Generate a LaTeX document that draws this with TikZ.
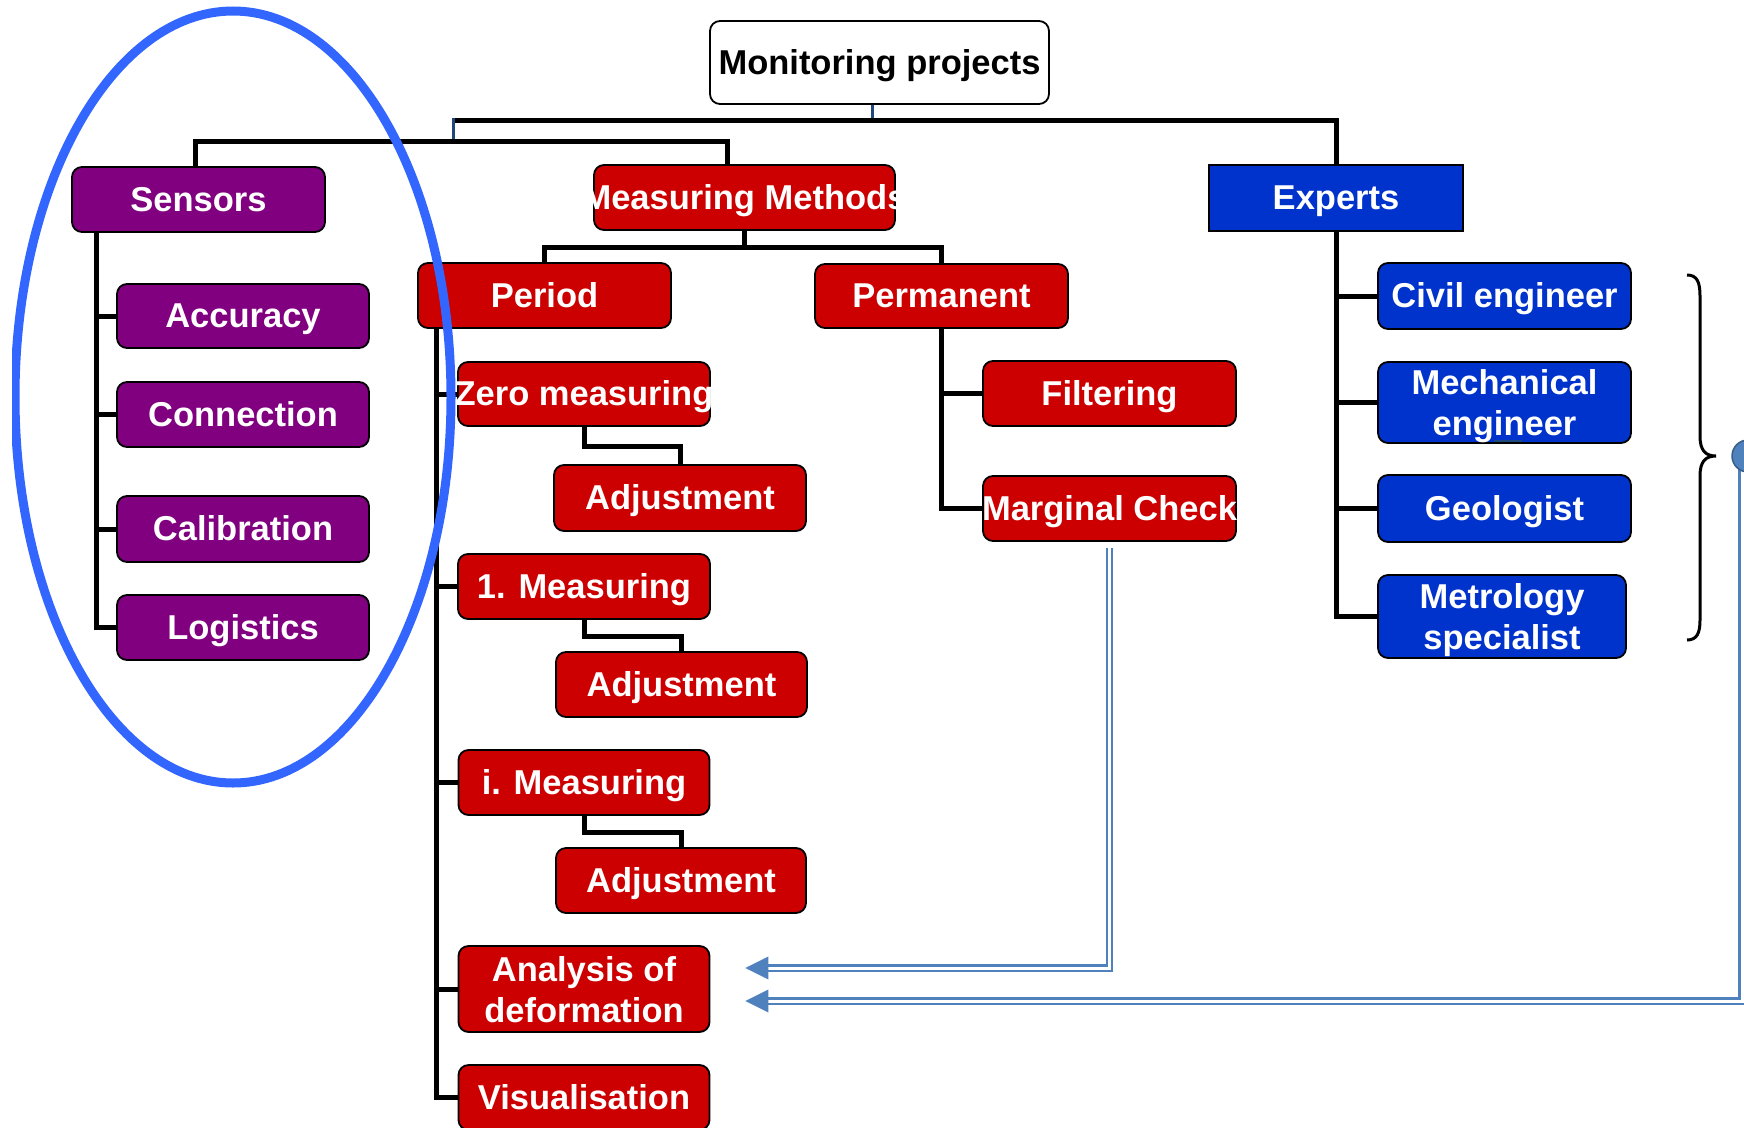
\documentclass[tikz,border=0pt]{standalone}
\usepackage{fontspec}
\setmainfont{Liberation Sans}
\usetikzlibrary{calc,backgrounds}
\definecolor{purp}{HTML}{800080}
\definecolor{redb}{HTML}{CC0000}
\definecolor{blueb}{HTML}{0033CC}
\definecolor{ellc}{HTML}{3366FF}
\definecolor{steel}{HTML}{4F81BD}
\definecolor{steeldk}{HTML}{385D8A}
\definecolor{navyc}{HTML}{1F497D}
\newcommand\ov[1]{\raisebox{-1.5pt}{\makebox[0pt]{\vphantom{H}\smash{#1}}}}
\begin{document}
\begin{tikzpicture}[x=1pt,y=-1pt,
  every node/.style={font=\fontsize{34.5}{41}\selectfont\bfseries},
  box/.style={draw=black, line width=1.8pt, rounded corners=10pt, text=white, inner sep=0pt, align=center},
  pbox/.style={box, fill=purp},
  rbox/.style={box, fill=redb},
  bbox/.style={box, fill=blueb},
  conn/.style={line width=5pt, draw=black},
  dbl/.style={draw=steel, double=white, double distance=3pt, line width=2.3pt},
  tick/.style={draw=navyc, line width=3pt}
]
\useasboundingbox (0,0) rectangle (1744,1127);

% root
\node[box, fill=white, text=black, minimum width=339pt, minimum height=83pt] (mon) at (879.5,62.5) {\ov{Monitoring projects}};

% sensors
\node[pbox, minimum width=253pt, minimum height=65pt] (sens) at (198.5,199.5) {\ov{Sensors}};
\node[pbox, minimum width=252pt, minimum height=64pt] (acc) at (243,316) {\ov{Accuracy}};
\node[pbox, minimum width=252pt, minimum height=65pt] (con) at (243,414.5) {\ov{Connection}};
\node[pbox, minimum width=252pt, minimum height=66pt] (cal) at (243,529) {\ov{Calibration}};
\node[pbox, minimum width=252pt, minimum height=65pt] (logi) at (243,627.5) {\ov{Logistics}};

% measuring methods
\node[rbox, minimum width=301pt, minimum height=65pt] (mm) at (744.5,197.5) {\ov{Measuring Methods}};
\node[rbox, minimum width=253pt, minimum height=65pt] (period) at (544.5,295.5) {\ov{Period}};
\node[rbox, minimum width=253pt, minimum height=64pt] (perm) at (941.5,296) {\ov{Permanent}};
\node[rbox, minimum width=252pt, minimum height=64pt] (zero) at (584,394) {\ov{Zero measuring}};
\node[rbox, minimum width=252pt, minimum height=66pt] (adja) at (680,498) {\ov{Adjustment}};
\node[rbox, minimum width=252pt, minimum height=65pt] (mone) at (584,586.5) {\ov{1. Measuring}};
\node[rbox, minimum width=251pt, minimum height=65pt] (adjb) at (681.5,684.5) {\ov{Adjustment}};
\node[rbox, minimum width=251pt, minimum height=65pt] (mi) at (584,782.5) {\ov{i. Measuring}};
\node[rbox, minimum width=250pt, minimum height=65pt] (adjc) at (681,880.5) {\ov{Adjustment}};
\node[rbox, minimum width=251pt, minimum height=86pt] (ana) at (584,989) {Analysis of\\\smash{deformation}};
\node[rbox, minimum width=251pt, minimum height=65pt] (vis) at (584,1097.5) {\ov{Visualisation}};
\node[rbox, minimum width=253pt, minimum height=65pt] (filt) at (1109.5,393.5) {\ov{Filtering}};
\node[rbox, minimum width=253pt, minimum height=65pt] (marg) at (1109.5,508.5) {\ov{Marginal Check}};

% experts
\node[bbox, rounded corners=0pt, minimum width=254pt, minimum height=66pt] (exp) at (1336,198) {\ov{Experts}};
\node[bbox, minimum width=253pt, minimum height=66pt] (civ) at (1504.5,296) {\ov{Civil engineer}};
\node[bbox, minimum width=253pt, minimum height=81pt] (mech) at (1504.5,402.5) {Mechanical\\\smash{engineer}};
\node[bbox, minimum width=253pt, minimum height=67pt] (geo) at (1504.5,508.5) {\ov{Geologist}};
\node[bbox, minimum width=248pt, minimum height=83pt] (met) at (1502,616.5) {Metrology\\\smash{specialist}};

% blue dot
\node[circle, fill=steel, draw=steeldk, line width=1.5pt, minimum size=32pt, inner sep=0pt] (dot) at (1748,456) {};

\begin{pgfonlayer}{background}
% top level
\draw[tick] ($(mon.south)+(-7.5,0)$) -- ++(0,17);
\coordinate (topl) at (453,120);
\draw[conn] (topl) -| (exp.north);
\draw[tick] (453,118) -- (453,143);
\draw[conn] ($(sens.north)+(-3.5,0)$) |- ($(mm.north)+(-17.5,-23)$) -- ($(mm.north)+(-17.5,0)$);
% sensors
\coordinate (sv) at ($(sens.south west)+(25,0)$);
\draw[conn] (sv) |- (logi.west);
\draw[conn] (sv |- acc.west) -- (acc.west);
\draw[conn] (sv |- con.west) -- (con.west);
\draw[conn] (sv |- cal.west) -- (cal.west);
% measuring methods
\draw[conn] (mm.south) -- ++(0,17) coordinate (mmb);
\draw[conn] (period.north) -- (period.north |- mmb) -- (perm.north |- mmb) -- (perm.north);
\coordinate (pv) at ($(period.south west)+(19,0)$);
\draw[conn] (pv) |- (vis.west);
\draw[conn] (pv |- zero.west) -- (zero.west);
\draw[conn] (pv |- mone.west) -- (mone.west);
\draw[conn] (pv |- mi.west) -- (mi.west);
\draw[conn] (pv |- ana.west) -- (ana.west);
\draw[conn] (zero.south) -- ++(0,20) -| (adja.north);
\draw[conn] (mone.south) -- ++(0,17) -| (adjb.north);
\draw[conn] (mi.south) -- ++(0,17) -| (adjc.north);
\draw[conn] (perm.south) |- (marg.west);
\draw[conn] (perm.south |- filt.west) -- (filt.west);
% experts
\draw[conn] (exp.south) |- (met.west);
\draw[conn] (exp.south |- civ.west) -- (civ.west);
\draw[conn] (exp.south |- mech.west) -- (mech.west);
\draw[conn] (exp.south |- geo.west) -- (geo.west);
% feedback arrows
\draw[dbl] ($(dot.center)+(-6,0)$) |- ($(ana.east)+(58,12)$);
\end{pgfonlayer}

\draw[dbl] ($(marg.south)+(0,6)$) |- ($(ana.east)+(58,-21)$);
\fill[steel] ($(ana.east)+(35,-21)$) -- ++(23,-11.5) -- ++(0,23) -- cycle;
\fill[steel] ($(ana.east)+(35,12)$) -- ++(23,-11.5) -- ++(0,23) -- cycle;

% underline artefact
\draw[navyc, line width=2pt] (1494,441) -- (1522,441);

% brace
\draw[line width=3pt] (1687,275) .. controls (1697,275) and (1700,282) .. (1700,296) -- (1700,436)
  .. controls (1700,450) and (1705,456) .. (1716,456)
  .. controls (1705,456) and (1700,462) .. (1700,476) -- (1700,620)
  .. controls (1700,633) and (1697,640) .. (1687,640);

% ellipse
\begin{scope}
\clip (12,0) rectangle (1744,1127);
\draw[ellc, line width=9pt] (233,397) ellipse [x radius=218pt, y radius=386pt];
\end{scope}
\end{tikzpicture}
\end{document}
